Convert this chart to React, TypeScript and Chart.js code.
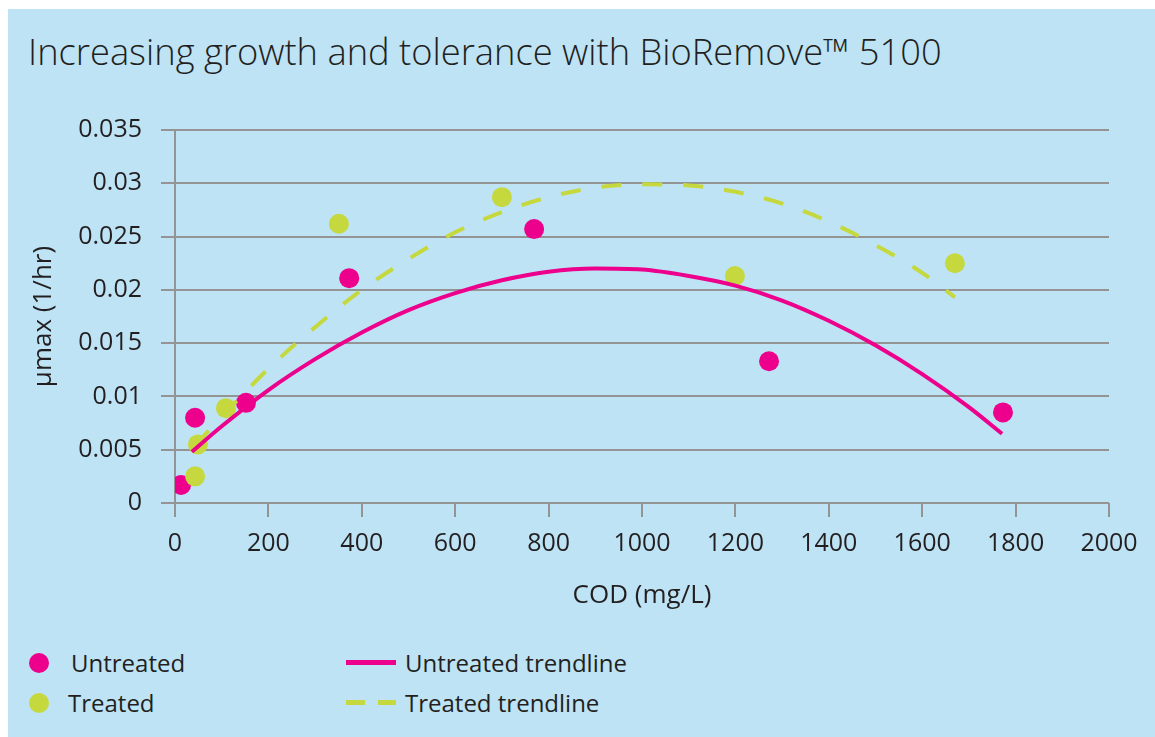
import React, { useEffect, useRef } from "react";
import { Chart, registerables } from "chart.js";

Chart.register(...registerables);

const untreatedX = [13, 43, 152, 373, 769, 1272, 1773];
const untreatedY = [0.0017, 0.008, 0.0094, 0.0211, 0.0257, 0.0133, 0.0085];
const treatedX = [43, 49, 109, 351, 700, 1199, 1670];
const treatedY = [0.0025, 0.0055, 0.0089, 0.0262, 0.0287, 0.0213, 0.0225];

const untreatedTrendX = [36, 100, 200, 300, 400, 500, 600, 700, 800, 900, 1000, 1100, 1200, 1300, 1400, 1500, 1600, 1700, 1771];
const untreatedTrendY = [0.0048, 0.0072, 0.0106, 0.0135, 0.016, 0.0181, 0.0197, 0.0209, 0.0217, 0.022, 0.0219, 0.0213, 0.0204, 0.019, 0.0171, 0.0148, 0.0121, 0.009, 0.0065];
const treatedTrendX = [43, 100, 200, 300, 400, 500, 600, 700, 800, 900, 1000, 1100, 1200, 1300, 1400, 1500, 1600, 1670];
const treatedTrendY = [0.0054, 0.0081, 0.0126, 0.0165, 0.02, 0.0229, 0.0254, 0.0273, 0.0287, 0.0296, 0.0299, 0.0298, 0.0292, 0.0281, 0.0264, 0.0242, 0.0216, 0.0193];

const xTickLabels = ["0", "200", "400", "600", "800", "1000", "1200", "1400", "1600", "1800", "2000"];
const yTickLabels = ["0", "0.005", "0.01", "0.015", "0.02", "0.025", "0.03", "0.035"];

const MAGENTA = "#ec008c";
const GREEN = "#c5d93e";
const TEXT = "#231f20";
const GRID = "#949494";
const FONT = "'Open Sans', sans-serif";

const pts = (xs: number[], ys: number[]) => xs.map((x, i) => ({ x, y: ys[i] }));

export default function App() {
  const ref = useRef<HTMLCanvasElement>(null);
  useEffect(() => {
    const chart = new Chart(ref.current!, {
      type: "scatter",
      data: {
        datasets: [
          {
            label: "Untreated trendline",
            type: "line",
            data: pts(untreatedTrendX, untreatedTrendY),
            borderColor: MAGENTA,
            borderWidth: 4,
            pointRadius: 0,
            cubicInterpolationMode: "monotone",
            fill: false,
          } as any,
          {
            label: "Treated trendline",
            type: "line",
            data: pts(treatedTrendX, treatedTrendY),
            borderColor: GREEN,
            borderWidth: 4,
            borderDash: [20, 21],
            pointRadius: 0,
            cubicInterpolationMode: "monotone",
            fill: false,
          } as any,
          {
            label: "Treated",
            data: pts(treatedX, treatedY),
            backgroundColor: GREEN,
            borderWidth: 0,
            pointRadius: 10,
          },
          {
            label: "Untreated",
            data: pts(untreatedX, untreatedY),
            backgroundColor: MAGENTA,
            borderWidth: 0,
            pointRadius: 10,
          },
        ],
      },
      options: {
        responsive: false,
        animation: false,
        layout: { padding: { top: 121, right: 46, left: 0, bottom: 0 } },
        plugins: { legend: { display: false }, tooltip: { enabled: false } },
        scales: {
          x: {
            type: "linear",
            min: 0,
            max: 2000,
            afterFit: (s: any) => { s.height = 117; },
            grid: { drawOnChartArea: false, drawTicks: true, tickLength: 14, color: GRID, lineWidth: 2 },
            border: { display: false },
            ticks: {
              stepSize: 200,
              padding: 12,
              color: TEXT,
              font: { family: FONT, size: 25 },
              callback: (_v: any, i: number) => xTickLabels[i],
            },
            title: {
              display: true,
              text: "COD (mg/L)",
              color: TEXT,
              font: { family: FONT, size: 26, weight: "500" },
              padding: { top: 0, bottom: 9 },
            },
          },
          y: {
            type: "linear",
            min: 0,
            max: 0.035,
            afterFit: (s: any) => { s.width = 167; },
            grid: { drawTicks: true, tickLength: 14, color: GRID, lineWidth: 2 },
            border: { display: true, color: GRID, width: 2 },
            ticks: {
              stepSize: 0.005,
              padding: 19,
              color: TEXT,
              font: { family: FONT, size: 25 },
              callback: (_v: any, i: number) => yTickLabels[i],
            },
            title: {
              display: true,
              text: "µmax (1/hr)",
              color: TEXT,
              font: { family: FONT, size: 26, weight: "500" },
              padding: { top: 20, bottom: 0 },
            },
          },
        },
      },
    });
    return () => chart.destroy();
  }, []);

  const legendText: React.CSSProperties = {
    position: "absolute",
    fontFamily: FONT,
    fontSize: 24,
    lineHeight: "24px",
    color: TEXT,
    whiteSpace: "nowrap",
  };
  const dot = (color: string, cy: number): React.CSSProperties => ({
    position: "absolute",
    left: 29,
    top: cy - 10,
    width: 20,
    height: 20,
    borderRadius: "50%",
    background: color,
  });

  return (
    <div style={{ position: "fixed", left: 0, top: 0, width: 1155, height: 737, overflow: "hidden", background: "#fff" }}>
      <div style={{ position: "absolute", left: 8, top: 9, width: 1147, height: 728, background: "#bde3f5" }} />
      <div
        style={{
          position: "absolute",
          left: 28,
          top: 33,
          fontFamily: FONT,
          fontWeight: 300,
          fontSize: 36.3,
          lineHeight: "36px",
          color: TEXT,
          whiteSpace: "nowrap",
        }}
      >
        Increasing growth and tolerance with BioRemove™ 5100
      </div>
      <canvas ref={ref} width={1147} height={611} style={{ position: "absolute", left: 8, top: 9 }} />
      <div style={dot(MAGENTA, 663)} />
      <div style={dot(GREEN, 703)} />
      <div style={{ ...legendText, left: 71, top: 651 }}>Untreated</div>
      <div style={{ ...legendText, left: 68, top: 691 }}>Treated</div>
      <div style={{ position: "absolute", left: 346, top: 660, width: 50, height: 5, background: MAGENTA }} />
      <div style={{ position: "absolute", left: 346, top: 700, width: 19, height: 5, background: GREEN }} />
      <div style={{ position: "absolute", left: 378, top: 700, width: 18, height: 5, background: GREEN }} />
      <div style={{ ...legendText, left: 405, top: 651 }}>Untreated trendline</div>
      <div style={{ ...legendText, left: 405, top: 691 }}>Treated trendline</div>
    </div>
  );
}
